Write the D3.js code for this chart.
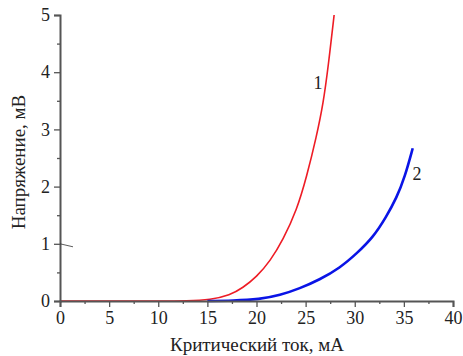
<!DOCTYPE html>
<html><head><meta charset="utf-8">
<script src="https://cdn.jsdelivr.net/npm/d3@7"></script>
<style>body{margin:0;background:#fff}svg{display:block}svg text{font-family:"Liberation Serif","Times New Roman","DejaVu Serif",serif !important}</style>
</head><body>
<svg id="c" width="463" height="356"></svg>
<script>
const xTicks = [0,5,10,15,20,25,30,35,40];
const yTicks = [0,1,2,3,4,5];
const curve1X = [0,5,10,13,15.3,17.3,18.6,20.0,21.4,22.7,24.1,25.1,26.1,26.8,27.3,27.9];
const curve1Y = [0,0,0,0,0.02,0.1,0.23,0.42,0.7,1.07,1.59,2.17,2.87,3.46,4.1,5.0];
const curve2X = [15,17.6,20.3,22.4,24.4,26.4,28.5,30.2,31.9,33.2,34.25,35.1,35.9];
const curve2Y = [0,0.005,0.03,0.1,0.22,0.37,0.58,0.83,1.12,1.47,1.8,2.17,2.67];
const labels = ["1","2"];
const xTitle = "Критический ток, мА";
const yTitle = "Напряжение, мВ";

const svg = d3.select("#c");
const x = d3.scaleLinear().domain([0,40]).range([60,453]);
const y = d3.scaleLinear().domain([0,5]).range([301,15]);
const axisColor = "#555";
const serif = '"Liberation Serif","Times New Roman",serif';

// curves
const line = d3.line().x(d=>x(d[0])).y(d=>y(d[1])).curve(d3.curveBasis);
svg.append("path").datum(curve1X.map((v,i)=>[v,curve1Y[i]]))
  .attr("d",line).attr("fill","none").attr("stroke","#ee1c25").attr("stroke-width",1.6);
svg.append("path").datum(curve2X.map((v,i)=>[v,curve2Y[i]]))
  .attr("d",line).attr("fill","none").attr("stroke","#0a14e6").attr("stroke-width",2.6);

// axes
const minorX = d3.range(2.5,40,5);
const minorY = d3.range(0.5,5,1);
const gx = svg.append("g").attr("transform",`translate(0,${y(0)})`)
  .call(d3.axisBottom(x).tickValues(xTicks).tickSize(6).tickPadding(4).tickFormat(d3.format("d")));
const gxm = svg.append("g").attr("transform",`translate(0,${y(0)})`)
  .call(d3.axisBottom(x).tickValues(minorX).tickSize(3).tickFormat(""));
const gy = svg.append("g").attr("transform",`translate(${x(0)},0)`)
  .call(d3.axisLeft(y).tickValues(yTicks).tickSize(6).tickPadding(4).tickFormat(d3.format("d")));
const gym = svg.append("g").attr("transform",`translate(${x(0)},0)`)
  .call(d3.axisLeft(y).tickValues(minorY).tickSize(3).tickFormat(""));
[gx,gxm,gy,gym].forEach(g=>{
  g.attr("font-family",null).attr("font-size",null);
  g.select(".domain").attr("stroke",axisColor).attr("stroke-width",2);
  g.selectAll(".tick line").attr("stroke",axisColor).attr("stroke-width",1.3);
  g.selectAll("text").style("font-family",serif).style("font-size","18px").attr("fill","#222");
});
gxm.select(".domain").remove(); gym.select(".domain").remove();

// stray mark near y=1
svg.append("line").attr("x1",x(0)).attr("y1",y(1)).attr("x2",x(0)+13).attr("y2",y(1)+3)
  .attr("stroke","#333").attr("stroke-width",0.8);

// curve labels
svg.append("text").attr("x",318).attr("y",89).attr("text-anchor","middle")
  .style("font-family",serif).style("font-size","18px").attr("fill","#222").text(labels[0]);
svg.append("text").attr("x",417).attr("y",180).attr("text-anchor","middle")
  .style("font-family",serif).style("font-size","18px").attr("fill","#222").text(labels[1]);

// titles
svg.append("text").attr("x",257).attr("y",351).attr("text-anchor","middle")
  .style("font-family",serif).style("font-size","19px").attr("fill","#222").text(xTitle);
svg.append("text").attr("transform","translate(25,162) rotate(-90)").attr("text-anchor","middle")
  .style("font-family",serif).style("font-size","19px").attr("fill","#222").text(yTitle);
</script>
</body></html>
